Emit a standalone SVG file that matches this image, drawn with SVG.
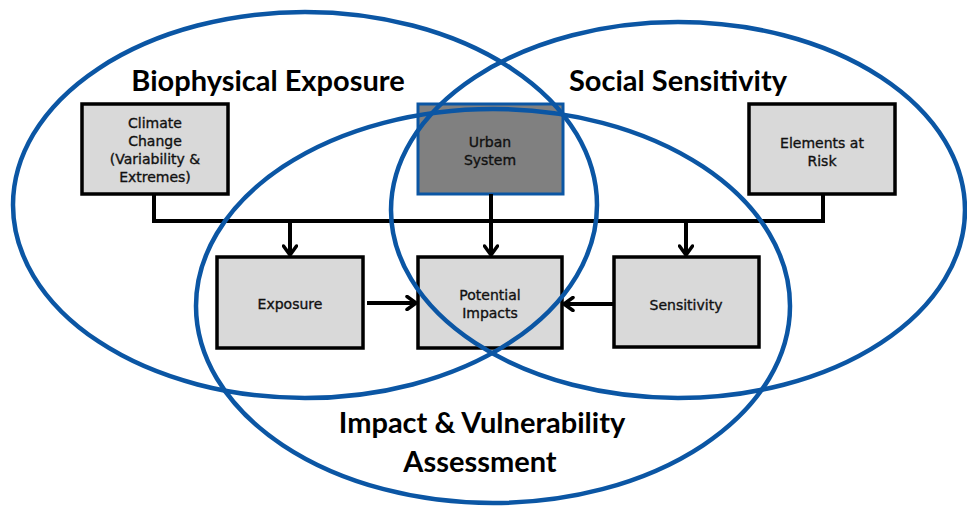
<svg xmlns="http://www.w3.org/2000/svg" width="967" height="508" viewBox="0 0 967 508">
<style>
.box{fill:#d9d9d9;stroke:#000;stroke-width:3.5}
.urban{fill:#808080;stroke:#0b56a4;stroke-width:3}
.lbl{font-family:"DejaVu Sans",Verdana,sans-serif;font-size:14px;fill:#111;stroke:#111;stroke-width:0.35;text-anchor:middle}
.title{font-family:Lato,"Open Sans",sans-serif;font-weight:bold;font-size:29px;fill:#000;text-anchor:middle}
.ell{fill:none;stroke:#0b56a4;stroke-width:4.5}
.con{fill:none;stroke:#000;stroke-width:4}
</style>
<defs>
<marker id="arr" markerUnits="userSpaceOnUse" markerWidth="14" markerHeight="16" refX="11" refY="8" orient="auto" viewBox="0 0 14 16">
<path d="M2,1.5 L11,8 L2,14.5" fill="none" stroke="#000" stroke-width="3.5" stroke-linecap="round" stroke-linejoin="round"/>
</marker>
</defs>
<rect width="967" height="508" fill="#fff"/>
<g id="climate-change">
<rect class="box" x="82" y="104" width="146" height="90"/>
<text class="lbl" x="155" y="128">Climate</text>
<text class="lbl" x="155" y="146">Change</text>
<text class="lbl" x="155" y="164">(Variability &amp;</text>
<text class="lbl" x="155" y="182">Extremes)</text>
</g>
<g id="urban-system">
<rect class="urban" x="418" y="104" width="145" height="90"/>
<text class="lbl" x="490" y="147">Urban</text>
<text class="lbl" x="490" y="165">System</text>
</g>
<g id="elements-at-risk">
<rect class="box" x="749" y="104" width="146" height="90"/>
<text class="lbl" x="822" y="148">Elements at</text>
<text class="lbl" x="822" y="166">Risk</text>
</g>
<g id="exposure">
<rect class="box" x="217" y="257" width="146" height="91"/>
<text class="lbl" x="290" y="309">Exposure</text>
</g>
<g id="potential-impacts">
<rect class="box" x="418" y="257" width="144" height="91"/>
<text class="lbl" x="490" y="300">Potential</text>
<text class="lbl" x="490" y="318">Impacts</text>
</g>
<g id="sensitivity">
<rect class="box" x="614" y="257" width="145" height="90"/>
<text class="lbl" x="686" y="310">Sensitivity</text>
</g>
<g id="connectors">
<path class="con" d="M154,194 V221 H490" stroke-width="3.5"/>
<path class="con" d="M490,221 H823 V194" stroke-width="5"/>
<path class="con" d="M290,221 V255" stroke-width="3.5" marker-end="url(#arr)"/>
<path class="con" d="M491,194 V255" stroke-width="3.5" marker-end="url(#arr)"/>
<path class="con" d="M686,221 V255" stroke-width="3.5" marker-end="url(#arr)"/>
<path class="con" d="M367,303 H416" stroke-width="3.5" marker-end="url(#arr)"/>
<path class="con" d="M614,304 H564" stroke-width="3.5" marker-end="url(#arr)"/>
</g>
<g id="biophysical-exposure">
<ellipse class="ell" cx="305" cy="205" rx="292" ry="193"/>
<text class="title" x="268" y="91">Biophysical Exposure</text>
</g>
<g id="social-sensitivity">
<ellipse class="ell" cx="678" cy="210" rx="287" ry="188"/>
<text class="title" x="678" y="91">Social Sensitivity</text>
</g>
<g id="impact-vulnerability">
<ellipse class="ell" cx="493" cy="306" rx="297" ry="197"/>
<text class="title" x="482" y="433">Impact &amp; Vulnerability</text>
<text class="title" x="480" y="472">Assessment</text>
</g>
</svg>
